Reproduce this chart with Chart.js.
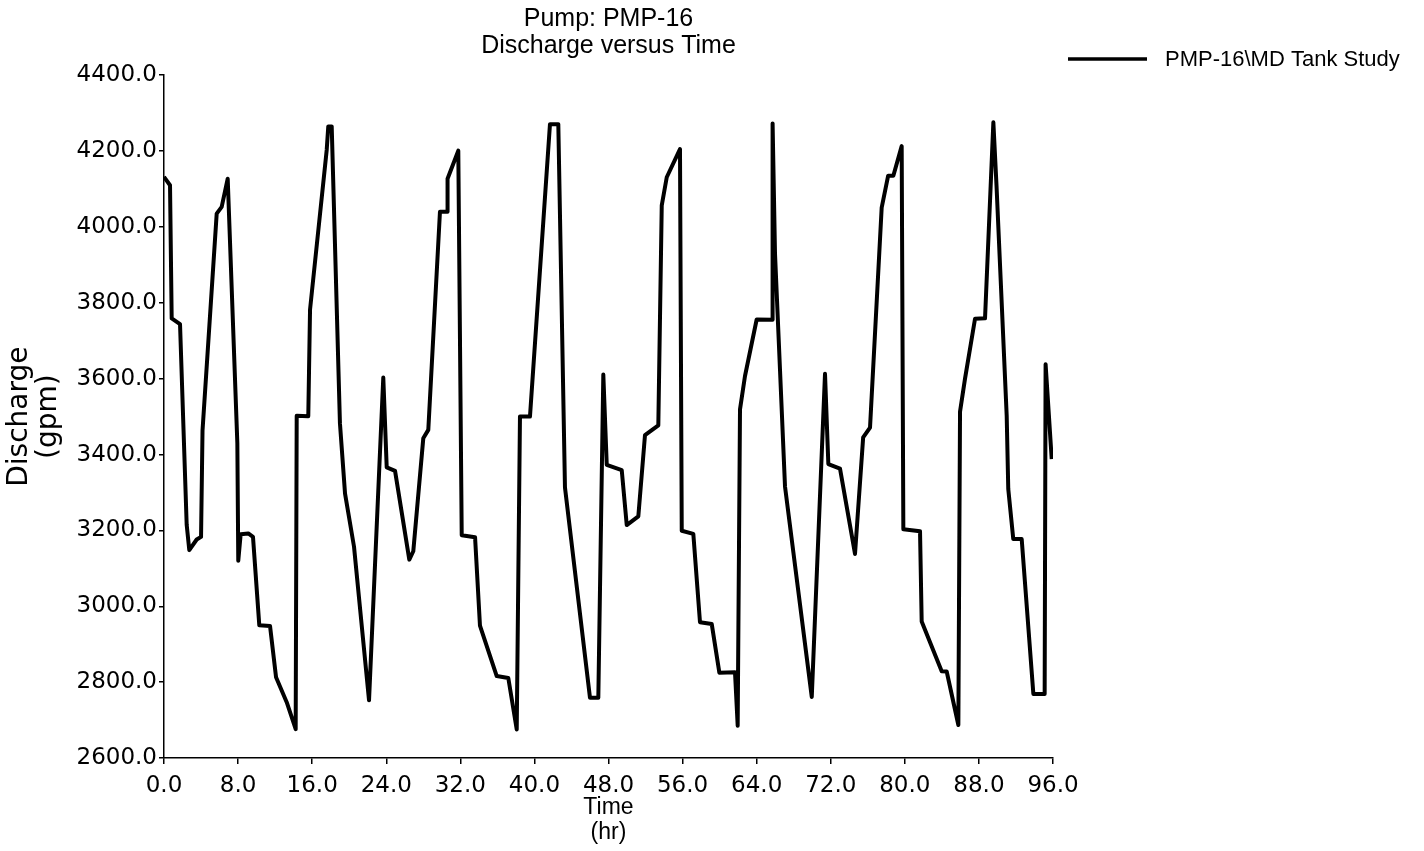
<!DOCTYPE html>
<html>
<head>
<meta charset="utf-8">
<title>Pump: PMP-16 Discharge versus Time</title>
<script src="https://cdn.jsdelivr.net/npm/chart.js@4.4.1/dist/chart.umd.min.js"></script>
<style>
  html, body { margin: 0; padding: 0; background: #fff; }
  canvas { display: block; }
</style>
</head>
<body>
<canvas id="pumpChart" width="1424" height="851"></canvas>
<script>
// PMP-16 discharge over the 96 hour tank study run
const timeHr = [
    0.0, 0.65, 0.83, 1.73, 2.45, 2.73, 3.53, 4.0, 4.16, 5.69, 6.23, 6.88,
    7.92, 8.02, 8.28, 9.1, 9.61, 10.29, 11.45, 12.1, 13.25, 14.22, 14.33, 15.58,
    15.77, 17.57, 17.74, 18.11, 19.0, 19.55, 20.52, 22.14, 23.68, 24.05, 24.95, 26.49,
    26.92, 28.0, 28.54, 29.8, 30.6, 30.62, 31.78, 32.15, 33.59, 34.12, 35.93, 37.18,
    38.09, 38.44, 39.52, 41.68, 42.58, 43.3, 46.0, 46.9, 47.44, 47.81, 49.43, 49.97,
    51.22, 51.94, 53.38, 53.75, 54.29, 55.72, 55.91, 57.16, 57.88, 59.15, 59.97, 61.66,
    61.95, 62.2, 62.74, 64.0, 65.7, 65.72, 65.98, 67.06, 69.95, 71.38, 71.74, 73.0,
    74.62, 75.5, 76.24, 77.5, 78.2, 78.76, 79.66, 79.84, 81.64, 81.82, 83.98, 84.52,
    85.78, 85.96, 86.5, 87.58, 88.66, 89.56, 89.9, 91.0, 91.17, 91.71, 92.62, 93.88,
    95.1, 95.2, 95.86
];
const dischargeGpm = [
    4132, 4110, 3759, 3744, 3215, 3148, 3176, 3183, 3464, 4035, 4053, 4127,
    3430, 3120, 3190, 3192, 3183, 2950, 2948, 2813, 2747, 2676, 3502, 3501,
    3782, 4203, 4265, 4265, 3482, 3297, 3157, 2752, 3603, 3366, 3357, 3123,
    3145, 3443, 3465, 4040, 4040, 4127, 4201, 3187, 3182, 2949, 2816, 2811,
    2675, 3500, 3500, 4271, 4271, 3313, 2759, 2759, 3611, 3373, 3359, 3214,
    3237, 3451, 3477, 4057, 4131, 4205, 3199, 3191, 2958, 2953, 2825, 2826,
    2685, 3519, 3607, 3756, 3755, 4273, 3930, 3316, 2761, 3613, 3375, 3363,
    3138, 3445, 3471, 4051, 4135, 4135, 4213, 3203, 3198, 2960, 2829, 2828,
    2687, 3513, 3600, 3758, 3759, 4276, 4109, 3502, 3309, 3177, 3177, 2769,
    2769, 3638, 3388
];
const timeTicks = [0, 8, 16, 24, 32, 40, 48, 56, 64, 72, 80, 88, 96];
const dischargeTicks = [2600, 2800, 3000, 3200, 3400, 3600, 3800, 4000, 4200, 4400];
const seriesName = 'PMP-16\\MD Tank Study';

const points = timeHr.map((t, i) => ({ x: t, y: dischargeGpm[i] }));

// legend sits up beside the title, outside the plot box
const sideLegend = {
    id: 'sideLegend',
    afterDraw(chart) {
        const ctx = chart.ctx;
        ctx.save();
        ctx.strokeStyle = '#000';
        ctx.lineWidth = 3.5;
        ctx.beginPath();
        ctx.moveTo(1068, 59);
        ctx.lineTo(1147, 59);
        ctx.stroke();
        ctx.fillStyle = '#000';
        ctx.font = '22px "Liberation Sans", Arial, sans-serif';
        ctx.textBaseline = 'middle';
        ctx.fillText(seriesName, 1165, 60);
        ctx.restore();
    }
};

const ctx = document.getElementById('pumpChart').getContext('2d');
const pumpChart = new Chart(ctx, {
    type: 'line',
    data: {
        datasets: [{
            label: seriesName,
            data: points,
            borderColor: '#000',
            borderWidth: 4,
            borderJoinStyle: 'round',
            pointRadius: 0,
            tension: 0,
            fill: false
        }]
    },
    options: {
        responsive: false,
        animation: false,
        devicePixelRatio: 1,
        layout: { padding: { top: 0, left: 0, right: 371, bottom: 0 } },
        plugins: {
            legend: { display: false },
            tooltip: { enabled: false },
            title: {
                display: true,
                fullSize: false,
                text: ['Pump: PMP-16', 'Discharge versus Time'],
                color: '#000',
                font: { family: '"Liberation Sans", Arial, sans-serif', size: 25, weight: 'normal', lineHeight: '27.6px' },
                padding: { top: 5, bottom: 15 }
            }
        },
        scales: {
            x: {
                type: 'linear',
                min: 0,
                max: 96,
                afterBuildTicks: (scale) => { scale.ticks = timeTicks.map(v => ({ value: v })); },
                afterFit: (scale) => { scale.height = 93; },
                ticks: {
                    color: '#000',
                    padding: 8,
                    maxRotation: 0,
                    font: { family: '"DejaVu Sans", Verdana, sans-serif', size: 23 },
                    callback: (v) => Number(v).toFixed(1)
                },
                grid: { drawOnChartArea: false, drawTicks: true, tickLength: 6, color: '#000', lineWidth: 1.5 },
                border: { display: true, color: '#000', width: 1.5 },
                title: {
                    display: true,
                    text: ['Time', '(hr)'],
                    color: '#000',
                    font: { family: '"Liberation Sans", Arial, sans-serif', size: 23, lineHeight: '25px' },
                    padding: { top: 0, bottom: 6 }
                }
            },
            y: {
                type: 'linear',
                min: 2600,
                max: 4400,
                afterBuildTicks: (scale) => { scale.ticks = dischargeTicks.map(v => ({ value: v })); },
                afterFit: (scale) => { scale.width = 164; },
                ticks: {
                    color: '#000',
                    padding: 2,
                    font: { family: '"DejaVu Sans", Verdana, sans-serif', size: 23 },
                    callback: (v) => Number(v).toFixed(1)
                },
                grid: { drawOnChartArea: false, drawTicks: true, tickLength: 5, color: '#000', lineWidth: 1.5 },
                border: { display: true, color: '#000', width: 1.5 },
                title: {
                    display: true,
                    text: ['Discharge', '(gpm)'],
                    color: '#000',
                    font: { family: '"DejaVu Sans", Verdana, sans-serif', size: 28, lineHeight: '29px' },
                    padding: { top: 5, bottom: 0 }
                }
            }
        }
    },
    plugins: [sideLegend]
});
</script>
</body>
</html>
